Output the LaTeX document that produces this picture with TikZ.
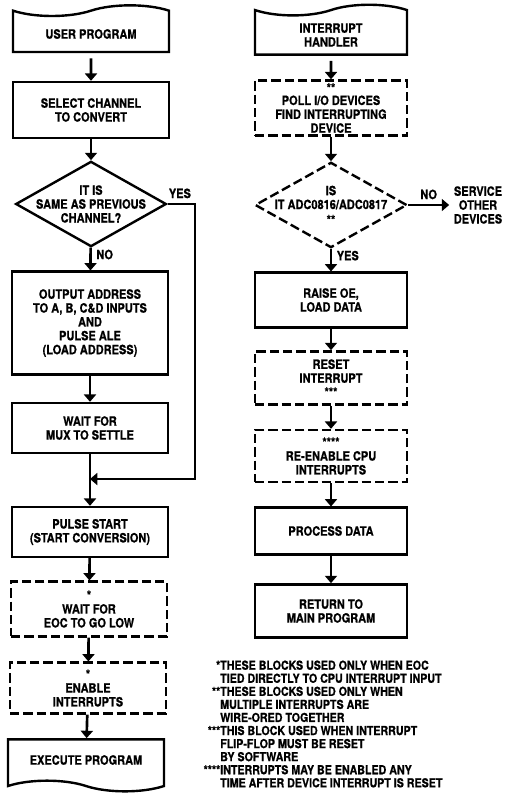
\documentclass[tikz,border=0pt]{standalone}
\usepackage{fontspec}
\setmainfont{TeX Gyre Heros}[FakeStretch=0.86, BoldFeatures={FakeBold=0.8}]
\usetikzlibrary{arrows.meta,positioning,calc,shapes.geometric,shapes.symbols}

\tikzset{
    block/.style={rectangle, draw, line width=1.8pt, minimum width=117pt, inner sep=2pt, align=center},
    optblock/.style={block, dash pattern=on 7pt off 3pt},
    terminal/.style={block, tape, tape bend top=in and out, tape bend bottom=none, tape bend height=8pt},
    decision/.style={diamond, draw, line width=1.8pt, inner sep=0pt, minimum width=113pt, minimum height=64pt},
    flow/.style={line width=2pt, -{Triangle[width=9pt,length=5.5pt]}},
}

\begin{document}
\begin{tikzpicture}[x=0.75pt, y=-0.75pt, font=\bfseries\fontsize{9.6}{10.4}\selectfont]
    \useasboundingbox (0,0) rectangle (504,800);

    % main program
    \node[terminal, minimum height=35pt] (user) at (91,34) {USER PROGRAM};
    \node[block, minimum height=42pt] (select) at (91,110) {SELECT CHANNEL\\TO CONVERT};
    \node[decision, label={[align=center]center:IT IS\\SAME AS PREVIOUS\\CHANNEL?}] (same) at (91,204) {};
    \node[block, minimum height=77pt] (output) at (90,323) {OUTPUT ADDRESS\\TO A, B, C\&D INPUTS\\AND\\PULSE ALE\\(LOAD ADDRESS)};
    \node[block, minimum height=37.5pt] (mux) at (90,428) {WAIT FOR\\MUX TO SETTLE};
    \coordinate (join) at (90,479);
    \coordinate (yes_corner) at (195,204);
    \node[block, minimum height=37.5pt] (pulse) at (90,532) {PULSE START\\(START CONVERSION)};
    \node[optblock, minimum height=41pt] (eoc) at (89,609) {*\\WAIT FOR\\EOC TO GO LOW};
    \node[optblock, minimum height=38pt] (enable) at (88,688) {*\\ENABLE\\INTERRUPTS};
    \node[block, tape, tape bend top=none, tape bend bottom=out and in, tape bend height=8pt, minimum height=39pt] (execute) at (86,760) {EXECUTE PROGRAM};

    \draw[flow] (user) -- (select);
    \draw[flow] (select) -- (same);
    \draw[flow] (same) -- node[right, pos=0.3] {NO} (output);
    \draw[flow] (output) -- (mux);
    \draw[line width=2pt] (mux) -- (join);
    \draw[flow] (same.east) -- node[above, pos=0.45] {YES} (yes_corner) |- (join);
    \draw[flow] (join) -- (pulse);
    \draw[flow] (pulse) -- (eoc);
    \draw[flow] (eoc) -- (enable);
    \draw[flow] (enable) -- (execute);

    % interrupt handler
    \node[terminal, minimum width=114pt, minimum height=37pt] (handler) at (331,35) {INTERRUPT\\HANDLER};
    \node[optblock, minimum width=114pt, minimum height=40pt] (poll) at (331,108) {**\\[-1pt]POLL I/O DEVICES\\FIND INTERRUPTING\\DEVICE};
    \node[decision, dash pattern=on 7pt off 3pt, minimum width=114pt, label={[align=center]center:IS\\IT ADC0816/ADC0817\\[1pt]**}] (adc) at (331,205) {};
    \node[align=center] (service) at (478,205) {SERVICE\\OTHER\\DEVICES};
    \node[block, minimum width=114pt, minimum height=41pt] (raise) at (331,300) {RAISE OE,\\LOAD DATA};
    \node[optblock, minimum width=114pt, minimum height=40pt] (reset) at (331,378) {RESET\\INTERRUPT\\***};
    \node[optblock, minimum width=114pt, minimum height=39pt] (reenable) at (331,456) {****\\RE-ENABLE CPU\\INTERRUPTS};
    \node[block, minimum width=114pt, minimum height=35pt] (process) at (331,531) {PROCESS DATA};
    \node[block, minimum width=114pt, minimum height=40pt] (return) at (331,611) {RETURN TO\\MAIN PROGRAM};

    \draw[flow] (handler) -- (poll);
    \draw[flow] (poll) -- (adc);
    \draw[flow] (adc) -- node[above] {NO} (service);
    \draw[flow] (adc) -- node[right, pos=0.3] {YES} (raise);
    \draw[flow] (raise) -- (reset);
    \draw[flow] (reset) -- (reenable);
    \draw[flow] (reenable) -- (process);
    \draw[flow] (process) -- (return);

    % notes
    \node[anchor=west, align=left, inner sep=0pt, font=\bfseries\fontsize{9.3}{9.8}\selectfont] (notes) at (220,724) {%
        \llap{*}THESE BLOCKS USED ONLY WHEN EOC\\
        TIED DIRECTLY TO CPU INTERRUPT INPUT\\
        \llap{**}THESE BLOCKS USED ONLY WHEN\\
        MULTIPLE INTERRUPTS ARE\\
        WIRE-ORED TOGETHER\\
        \llap{***}THIS BLOCK USED WHEN INTERRUPT\\
        FLIP-FLOP MUST BE RESET\\
        BY SOFTWARE\\
        \llap{****}INTERRUPTS MAY BE ENABLED ANY\\
        TIME AFTER DEVICE INTERRUPT IS RESET};
\end{tikzpicture}
\end{document}
